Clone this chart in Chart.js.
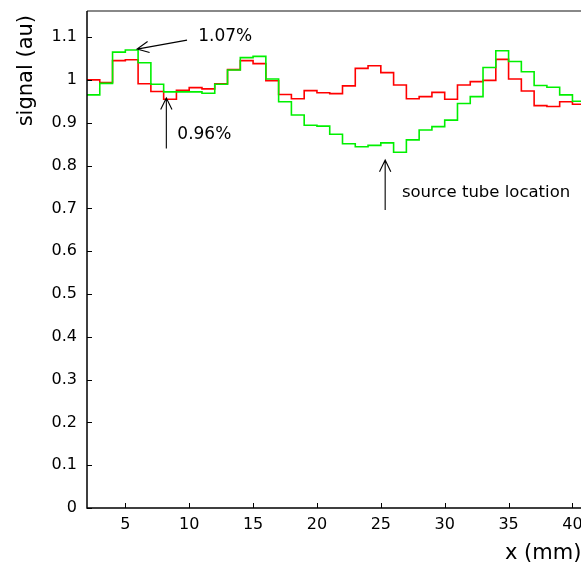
<!DOCTYPE html>
<html>
<head>
<meta charset="utf-8">
<script src="https://cdn.jsdelivr.net/npm/chart.js@4.4.1/dist/chart.umd.min.js"></script>
<style>
    html, body { margin: 0; padding: 0; background: #fff; overflow: hidden; }
    #wrap { width: 640px; height: 570px; position: relative; }
</style>
</head>
<body>
<div id="wrap"><canvas id="signalChart"></canvas></div>
<script>
// bin edges in mm (1 mm bins)
const binEdges = [2, 3, 4, 5, 6, 7, 8, 9, 10, 11, 12, 13, 14, 15, 16, 17, 18, 19, 20, 21, 22,
    23, 24, 25, 26, 27, 28, 29, 30, 31, 32, 33, 34, 35, 36, 37, 38, 39, 40, 41, 42];

// signal per bin, red histogram
const redSignal = [1.000, 0.994, 1.045, 1.047, 0.991, 0.973, 0.955, 0.976, 0.982, 0.979,
    0.991, 1.024, 1.045, 1.038, 0.998, 0.966, 0.956, 0.975, 0.970, 0.968,
    0.986, 1.027, 1.033, 1.017, 0.988, 0.956, 0.961, 0.971, 0.955, 0.988,
    0.996, 0.999, 1.048, 1.002, 0.974, 0.940, 0.938, 0.949, 0.943, 0.945];

// signal per bin, green histogram
const greenSignal = [0.965, 0.992, 1.065, 1.070, 1.040, 0.990, 0.972, 0.972, 0.972, 0.969,
    0.990, 1.023, 1.052, 1.055, 1.002, 0.949, 0.918, 0.894, 0.892, 0.873,
    0.851, 0.844, 0.847, 0.853, 0.831, 0.860, 0.883, 0.891, 0.906, 0.945,
    0.961, 1.029, 1.068, 1.043, 1.019, 0.987, 0.983, 0.965, 0.950, 0.948];

const xTicks = [5, 10, 15, 20, 25, 30, 35, 40];
const yTicks = [0, 0.1, 0.2, 0.3, 0.4, 0.5, 0.6, 0.7, 0.8, 0.9, 1, 1.1];

// annotations: text and arrows, in data units
const labels = [
    { text: '1.07%', x: 10.71, y: 1.091, size: 17 },
    { text: '0.96%', x: 9.07, y: 0.862, size: 17 },
    { text: 'source tube location', x: 26.65, y: 0.727, size: 16.5 }
];
const arrows = [
    { from: [9.83, 1.093], to: [5.92, 1.072] },
    { from: [8.21, 0.840], to: [8.21, 0.958] },
    { from: [25.34, 0.696], to: [25.34, 0.813] }
];

const fontFamily = '"DejaVu Sans", "Liberation Sans", sans-serif';

function histPoints(values) {
    // step line: every edge takes the value of the bin it opens, last edge repeats last bin
    return binEdges.map((edge, i) => ({ x: edge, y: values[Math.min(i, values.length - 1)] }));
}

function drawArrow(c, x1, y1, x2, y2) {
    const ang = Math.atan2(y2 - y1, x2 - x1);
    const len = 13, spread = 0.45;
    c.beginPath();
    c.moveTo(x1, y1);
    c.lineTo(x2, y2);
    c.moveTo(x2 - len * Math.cos(ang - spread), y2 - len * Math.sin(ang - spread));
    c.lineTo(x2, y2);
    c.lineTo(x2 - len * Math.cos(ang + spread), y2 - len * Math.sin(ang + spread));
    c.stroke();
}

const framePlugin = {
    id: 'frame',
    afterDatasetsDraw(chart) {
        const c = chart.ctx;
        const area = chart.chartArea;
        const xs = chart.scales.x, ys = chart.scales.y;
        c.save();

        // frame: gray top, black left and bottom
        c.lineWidth = 2;
        c.strokeStyle = '#888';
        c.beginPath();
        c.moveTo(area.left, area.top);
        c.lineTo(area.right, area.top);
        c.stroke();
        c.lineWidth = 1.5;
        c.strokeStyle = '#000';
        c.beginPath();
        c.moveTo(area.left, area.top);
        c.lineTo(area.left, area.bottom);
        c.lineTo(area.right, area.bottom);
        c.stroke();

        // inward ticks
        c.lineWidth = 1;
        c.beginPath();
        xTicks.forEach(v => {
            const px = Math.round(xs.getPixelForValue(v)) + 0.5;
            c.moveTo(px, area.bottom);
            c.lineTo(px, area.bottom - 5);
        });
        yTicks.forEach(v => {
            const py = Math.round(ys.getPixelForValue(v)) + 0.5;
            c.moveTo(area.left, py);
            c.lineTo(area.left + 5, py);
        });
        c.stroke();

        // arrows
        c.lineWidth = 1.1;
        arrows.forEach(a => {
            drawArrow(c,
                xs.getPixelForValue(a.from[0]), ys.getPixelForValue(a.from[1]),
                xs.getPixelForValue(a.to[0]), ys.getPixelForValue(a.to[1]));
        });

        // annotation text
        c.fillStyle = '#000';
        c.textBaseline = 'alphabetic';
        c.textAlign = 'left';
        labels.forEach(l => {
            c.font = l.size + 'px ' + fontFamily;
            c.fillText(l.text, xs.getPixelForValue(l.x), ys.getPixelForValue(l.y));
        });

        // axis titles
        c.font = '21px ' + fontFamily;
        c.textAlign = 'left';
        c.fillText('x (mm)', 505, 559);
        c.save();
        c.translate(32, area.top + 4);
        c.rotate(-Math.PI / 2);
        c.textAlign = 'right';
        c.fillText('signal (au)', 0, 0);
        c.restore();

        c.restore();
    }
};

const ctx = document.getElementById('signalChart').getContext('2d');
const signalChart = new Chart(ctx, {
    type: 'line',
    data: {
        datasets: [
            {
                label: 'green',
                data: histPoints(greenSignal),
                borderColor: '#00f000',
                borderWidth: 1.6,
                stepped: 'before',
                pointRadius: 0,
                fill: false
            },
            {
                label: 'red',
                data: histPoints(redSignal),
                borderColor: '#ff0000',
                borderWidth: 1.6,
                stepped: 'before',
                pointRadius: 0,
                fill: false
            }
        ]
    },
    options: {
        responsive: true,
        maintainAspectRatio: false,
        animation: false,
        layout: { padding: { top: 11, right: 42, bottom: 0, left: 0 } },
        plugins: {
            legend: { display: false },
            tooltip: { enabled: false }
        },
        scales: {
            x: {
                type: 'linear',
                min: 2,
                max: 42,
                grid: { display: false, drawTicks: false },
                border: { display: false },
                afterBuildTicks: s => { s.ticks = xTicks.map(v => ({ value: v })); },
                afterFit: s => { s.height = 62; s.paddingLeft = 0; s.paddingRight = 0; },
                ticks: {
                    color: '#000',
                    padding: 7,
                    maxRotation: 0,
                    autoSkip: false,
                    font: { family: fontFamily, size: 16 }
                }
            },
            y: {
                min: 0,
                max: 1.161,
                grid: { display: false, drawTicks: false },
                border: { display: false },
                afterBuildTicks: s => { s.ticks = yTicks.map(v => ({ value: v })); },
                afterFit: s => { s.width = 87; s.paddingTop = 0; s.paddingBottom = 0; },
                ticks: {
                    color: '#000',
                    padding: 10,
                    autoSkip: false,
                    font: { family: fontFamily, size: 16 },
                    callback: v => String(parseFloat(v.toFixed(2)))
                }
            }
        }
    },
    plugins: [framePlugin]
});
</script>
</body>
</html>
